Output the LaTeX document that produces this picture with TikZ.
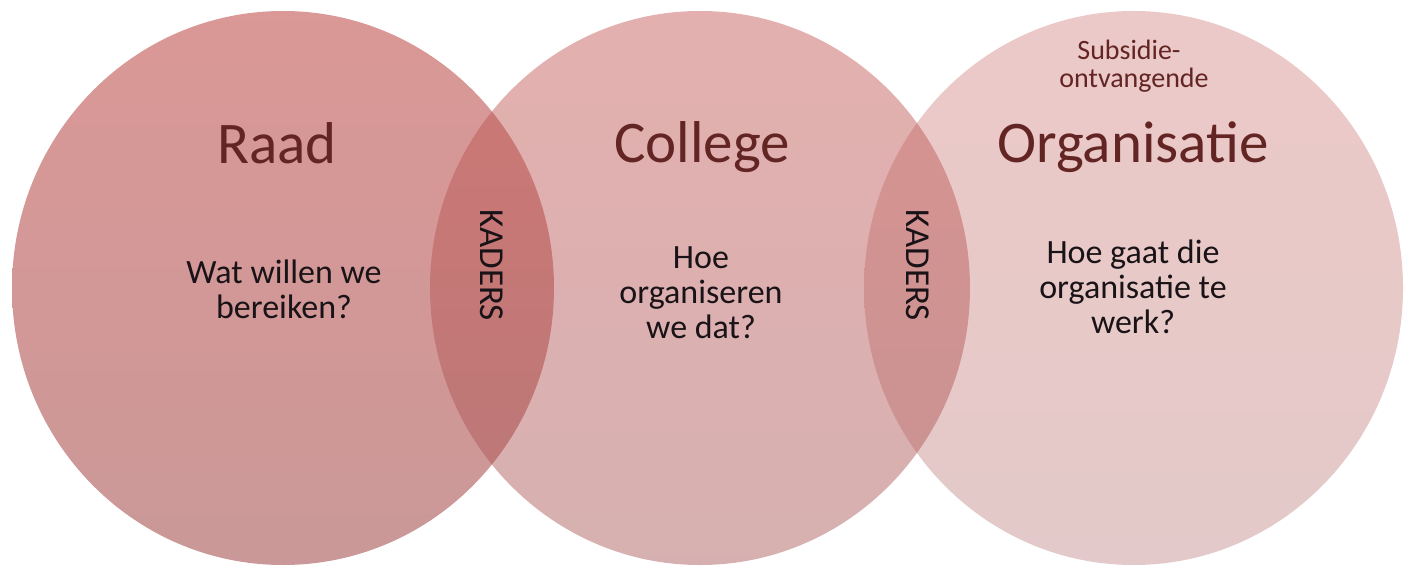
\documentclass[tikz,border=0pt]{standalone}
\usepackage{fontspec}
\setmainfont{Carlito}
\definecolor{basetop}{RGB}{192,80,77}
\definecolor{basebot}{RGB}{165,80,80}
\definecolor{titlecol}{RGB}{99,37,35}
\definecolor{bodycol}{RGB}{25,18,22}
\tikzset{
  disc/.style={top color=basetop, bottom color=basebot, draw=none},
  title/.style={font=\fontsize{59}{60}\selectfont, text=titlecol, anchor=base, inner sep=0pt},
  sub/.style={font=\fontsize{28}{30}\selectfont, text=titlecol, anchor=base, inner sep=0pt},
  body/.style={font=\fontsize{34}{36}\selectfont, text=bodycol, anchor=base, inner sep=0pt},
  kader/.style={font=\fontsize{35}{36}\selectfont, text=bodycol, rotate=-90, inner sep=0pt},
}
\begin{document}
\begin{tikzpicture}[x=1pt,y=-1pt]
\useasboundingbox (0,0) rectangle (1410,567);
% circles
\path[disc, fill opacity=0.59] (283,288) ellipse [x radius=271, y radius=277];
\path[disc, fill opacity=0.45] (700,288) ellipse [x radius=270, y radius=277];
\path[disc, fill opacity=0.31] (1133.5,288) ellipse [x radius=269.5, y radius=277];
% titles
\node[title] (raad) at (277,163) {Raad};
\node[title] (college) at (702,162) {College};
\node[title] (org) at (1133,162) {Organisatie};
\node[sub] (sub1) at (1129,60) {Subsidie-};
\node[sub] (sub2) at (1134,88) {ontvangende};
% body texts
\node[body] (r1) at (284,283) {Wat willen we};
\node[body] (r2) at (284,318) {bereiken?};
\node[body] (c1) at (701,268) {Hoe};
\node[body] (c2) at (701,303) {organiseren};
\node[body] (c3) at (701,338) {we dat?};
\node[body] (o1) at (1133,263) {Hoe gaat die};
\node[body] (o2) at (1133,298) {organisatie te};
\node[body] (o3) at (1133,333) {werk?};
% overlaps
\node[kader] (k1) at (492,265) {KADERS};
\node[kader] (k2) at (918,265) {KADERS};
\end{tikzpicture}
\end{document}
